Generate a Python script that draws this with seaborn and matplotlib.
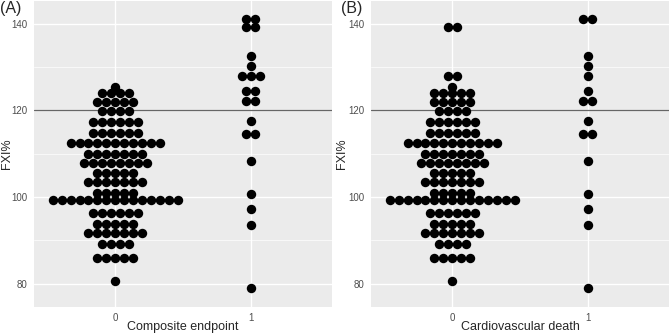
import pandas as pd
import numpy as np
import matplotlib
matplotlib.use("Agg")
import matplotlib.pyplot as plt
import seaborn as sns

# FXI% rows of the dot plot (row value, number of dots in that row)
a0_fxi = [125.3, 124.0, 121.8, 119.9, 117.3, 114.8, 112.5, 109.9, 107.9, 105.5, 103.4, 100.9, 99.2, 96.2, 93.7, 91.6, 89.2, 86.0, 80.5]
a0_n = [1, 4, 5, 4, 6, 6, 11, 7, 8, 5, 7, 5, 15, 6, 5, 7, 4, 5, 1]
a1_fxi = [141.1, 139.1, 132.6, 130.2, 128.0, 124.4, 122.2, 117.4, 114.5, 108.4, 100.6, 97.1, 93.6, 79.0]
a1_n = [2, 2, 1, 1, 3, 2, 2, 1, 2, 1, 1, 1, 1, 1]

b0_fxi = [139.1, 128.0, 125.3, 124.0, 121.8, 119.9, 117.3, 114.8, 112.5, 109.9, 107.9, 105.5, 103.4, 100.9, 99.2, 96.2, 93.7, 91.6, 89.2, 86.0, 80.5]
b0_n = [2, 2, 1, 5, 5, 4, 6, 6, 11, 7, 8, 5, 7, 5, 15, 6, 5, 7, 4, 5, 1]
b1_fxi = [141.1, 132.6, 130.2, 128.0, 124.4, 122.2, 117.4, 114.5, 108.4, 100.6, 97.1, 93.6, 79.0]
b1_n = [2, 1, 1, 1, 1, 2, 1, 2, 1, 1, 1, 1, 1]

groups = [0, 1]
panel_titles = ["(A)", "(B)"]
x_labels = ["Composite endpoint", "Cardiovascular death"]
cutoff = 120

# stack dots horizontally, centred on the group (like a centred dotplot)
step = 0.066
def stack(fxi, n, group):
    xs, ys = [], []
    for v, k in zip(fxi, n):
        for i in range(k):
            xs.append(group + (i - (k - 1) / 2) * step)
            ys.append(v)
    return pd.DataFrame({"x": xs, "fxi": ys})

panels = [
    pd.concat([stack(a0_fxi, a0_n, 0), stack(a1_fxi, a1_n, 1)]),
    pd.concat([stack(b0_fxi, b0_n, 0), stack(b1_fxi, b1_n, 1)]),
]

sns.set_style("darkgrid", {"axes.facecolor": "#EBEBEB", "grid.color": "white"})
plt.rcParams["font.family"] = ["Liberation Sans", "DejaVu Sans"]

fig = plt.figure(figsize=(6.69, 3.33), dpi=100)
lefts = [34 / 669, 371 / 669]
ylab_x = [-0.07, -0.077]
for j, df in enumerate(panels):
    ax = fig.add_axes([lefts[j], 26 / 333, 298 / 669, 306 / 333])
    ax.set_xlim(-0.6, 1.6)
    ax.set_ylim(74.6, 145.2)
    ax.set_yticks([80, 100, 120, 140])
    ax.set_yticks([90, 110, 130], minor=True)
    ax.set_xticks(groups)
    ax.grid(which="major", color="white", linewidth=1.0)
    ax.grid(which="minor", axis="y", color="white", linewidth=0.5)
    ax.axhline(cutoff, color="#666666", linewidth=0.9, zorder=1)
    sns.scatterplot(data=df, x="x", y="fxi", ax=ax, color="black", s=46,
                    linewidth=0, zorder=3, legend=False)
    for s in ax.spines.values():
        s.set_visible(False)
    ax.tick_params(axis="both", which="major", length=3, color="#333333",
                   labelsize=7, labelcolor="#4D4D4D", pad=1.5)
    ax.tick_params(axis="both", which="minor", length=0)
    ax.set_xlabel(x_labels[j], fontsize=9)
    ax.set_ylabel("FXI%", fontsize=9)
    ax.xaxis.set_label_coords(0.5, -0.045)
    ax.yaxis.set_label_coords(ylab_x[j], 0.5)

fig.text(0.0, 0.997, panel_titles[0], fontsize=11.5, va="top", ha="left")
fig.text(341 / 669, 0.997, panel_titles[1], fontsize=11.5, va="top", ha="left")

fig.savefig("out.png", dpi=100)
